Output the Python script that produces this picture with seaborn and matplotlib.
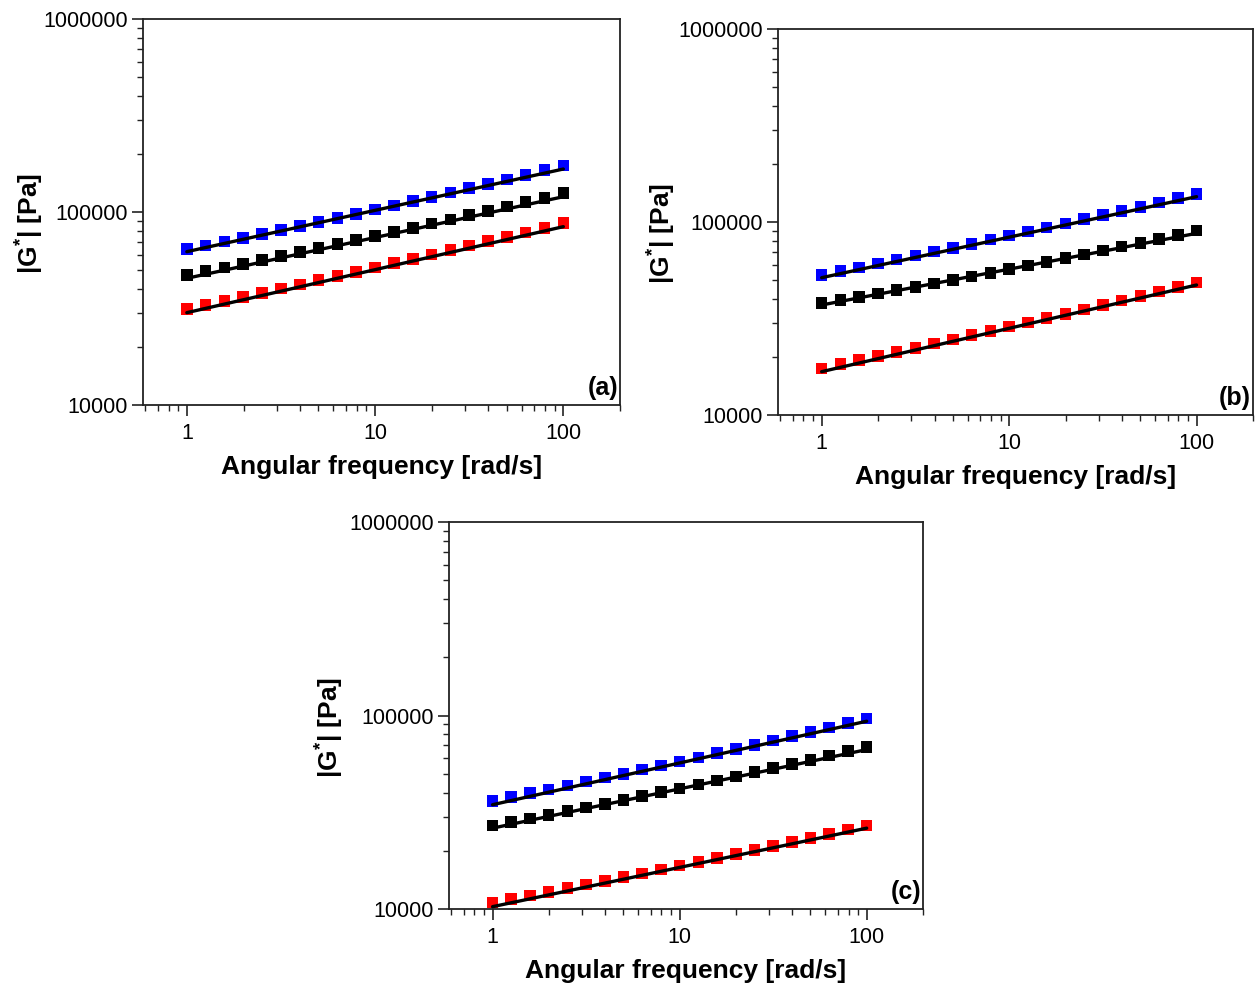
import matplotlib
matplotlib.use("Agg")
import matplotlib.pyplot as plt
import numpy as np
import pandas as pd
import seaborn as sns
from matplotlib.ticker import FixedLocator, FixedFormatter, LogLocator, NullFormatter

# ---------------- data ----------------
freq = [1, 1.259, 1.585, 1.995, 2.512, 3.162, 3.981, 5.012, 6.310, 7.943,
        10, 12.59, 15.85, 19.95, 25.12, 31.62, 39.81, 50.12, 63.10, 79.43, 100]

a_blue = [64270, 67200, 70300, 73560, 77030, 80720, 84630, 88770, 93190, 97840,
          102800, 108100, 113700, 119600, 126000, 132700, 139900, 147600, 155800, 164500, 173800]
a_black = [47160, 49300, 51550, 53950, 56470, 59160, 61970, 64970, 68150, 71500,
           75060, 78830, 82790, 87040, 91530, 96320, 101400, 106800, 112500, 118600, 125000]
a_red = [31320, 32890, 34540, 36270, 38130, 40070, 42120, 44290, 46590, 49030,
         51610, 54330, 57200, 60260, 63500, 66910, 70550, 74380, 78480, 82790, 87390]

b_blue = [53150, 55640, 58240, 61000, 63900, 66950, 70180, 73570, 77180, 80980,
          84980, 89210, 93620, 98330, 103300, 108600, 114100, 120000, 126200, 132700, 139700]
b_black = [37910, 39380, 40930, 42560, 44290, 46110, 48030, 50060, 52200, 54460,
           56870, 59390, 62090, 64920, 67920, 71120, 74490, 78070, 81860, 85890, 90160]
b_red = [17450, 18320, 19240, 20200, 21230, 22310, 23440, 24650, 25910, 27260,
         28690, 30200, 31790, 33470, 35270, 37170, 39170, 41290, 43550, 45940, 48480]

c_blue = [36270, 37920, 39670, 41520, 43480, 45530, 47720, 50030, 52480, 55070,
          57820, 60730, 63820, 67080, 70580, 74270, 78180, 82360, 86790, 91500, 96490]
c_black = [27020, 28170, 29390, 30690, 32050, 33480, 35010, 36620, 38320, 40120,
           42030, 44060, 46200, 48470, 50880, 53420, 56150, 59030, 62090, 65340, 68800]
c_red = [10790, 11250, 11740, 12260, 12810, 13380, 13990, 14630, 15290, 16010,
         16760, 17550, 18390, 19260, 20200, 21180, 22220, 23320, 24480, 25720, 27020]

# power-law fit lines (values at omega = 1 and 100)
fit_freq = [1, 100]
a_fit_blue, a_fit_black, a_fit_red = [62300, 167000], [45330, 120000], [30090, 83950]
b_fit_blue, b_fit_black, b_fit_red = [51460, 135300], [37150, 87360], [16770, 47170]
c_fit_blue, c_fit_black, c_fit_red = [34590, 93430], [26170, 66650], [10280, 26170]

panel_labels = ["(a)", "(b)", "(c)"]
x_ticks = [1, 10, 100]
x_tick_labels = ["1", "10", "100"]
y_ticks = [10000, 100000, 1000000]
y_tick_labels = ["10000", "100000", "1000000"]
x_label = "Angular frequency [rad/s]"
y_label = r"|G$^{\mathbf{*}}$| [Pa]"

# ---------------- style ----------------
sns.set_style("ticks")
plt.rcParams["font.family"] = ["Liberation Sans", "DejaVu Sans"]
plt.rcParams["text.color"] = "black"
plt.rcParams["axes.labelcolor"] = "black"
plt.rcParams["mathtext.fontset"] = "custom"
plt.rcParams["mathtext.bf"] = "Liberation Sans:bold"
plt.rcParams["mathtext.rm"] = "Liberation Sans:bold"
plt.rcParams["mathtext.it"] = "Liberation Sans:bold"

palette = {"blue": "#0000ff", "black": "#000000", "red": "#ff0000"}

fig = plt.figure(figsize=(12.56, 9.86), dpi=100)
W, H = 1256, 986
# pixel boxes (left, top, right, bottom)
boxes = [(143, 19, 620, 405), (778, 29, 1253, 415), (449, 522, 923, 909)]
ylabel_x = [-0.237, -0.244, -0.251]

panels = [
    (a_blue, a_black, a_red, a_fit_blue, a_fit_black, a_fit_red),
    (b_blue, b_black, b_red, b_fit_blue, b_fit_black, b_fit_red),
    (c_blue, c_black, c_red, c_fit_blue, c_fit_black, c_fit_red),
]

for (l, t, r, b), data, plabel, ylx in zip(boxes, panels, panel_labels, ylabel_x):
    ax = fig.add_axes([l / W, 1 - b / H, (r - l) / W, (b - t) / H])
    ax.set_xscale("log")
    ax.set_yscale("log")
    blue, black, red, fb, fk, fr = data
    df = pd.DataFrame({
        "freq": freq * 3,
        "G": blue + black + red,
        "series": ["blue"] * len(freq) + ["black"] * len(freq) + ["red"] * len(freq),
    })
    sns.scatterplot(data=df, x="freq", y="G", hue="series", palette=palette,
                    marker="s", s=70, edgecolor="none", linewidth=0,
                    legend=False, ax=ax, zorder=2)
    for fit in (fb, fk, fr):
        sns.lineplot(x=fit_freq, y=fit, color="black", linewidth=2.4, ax=ax, zorder=3)

    ax.set_xlim(0.585, 200)
    ax.set_ylim(1e4, 1e6)
    ax.xaxis.set_major_locator(FixedLocator(x_ticks))
    ax.xaxis.set_major_formatter(FixedFormatter(x_tick_labels))
    ax.yaxis.set_major_locator(FixedLocator(y_ticks))
    ax.yaxis.set_major_formatter(FixedFormatter(y_tick_labels))
    ax.xaxis.set_minor_locator(LogLocator(base=10, subs=np.arange(2, 10), numticks=20))
    ax.yaxis.set_minor_locator(LogLocator(base=10, subs=np.arange(2, 10), numticks=20))
    ax.xaxis.set_minor_formatter(NullFormatter())
    ax.yaxis.set_minor_formatter(NullFormatter())

    ax.tick_params(which="major", direction="out", length=8, width=1.2,
                   labelsize=15.5, colors="#222222", labelcolor="black", pad=3)
    ax.tick_params(which="minor", direction="out", length=4, width=1.0, colors="#222222")
    ax.tick_params(axis="x", which="major", pad=5)
    ax.tick_params(top=False, right=False, which="both")
    for sp in ax.spines.values():
        sp.set_visible(True)
        sp.set_linewidth(1.3)
        sp.set_color("#222222")

    ax.set_xlabel(x_label, fontsize=19, fontweight="bold", color="black")
    ax.set_ylabel(y_label, fontsize=19, fontweight="bold", color="black")
    ax.xaxis.label.set_va("center")
    ax.yaxis.label.set_va("center")
    ax.xaxis.set_label_coords(0.5, -0.16)
    ax.yaxis.set_label_coords(ylx, 0.47)

    ax.text(0.996, 0.012, plabel, transform=ax.transAxes, ha="right", va="bottom",
            fontsize=18, fontweight="bold", color="black")

fig.savefig("out.png", dpi=100)
